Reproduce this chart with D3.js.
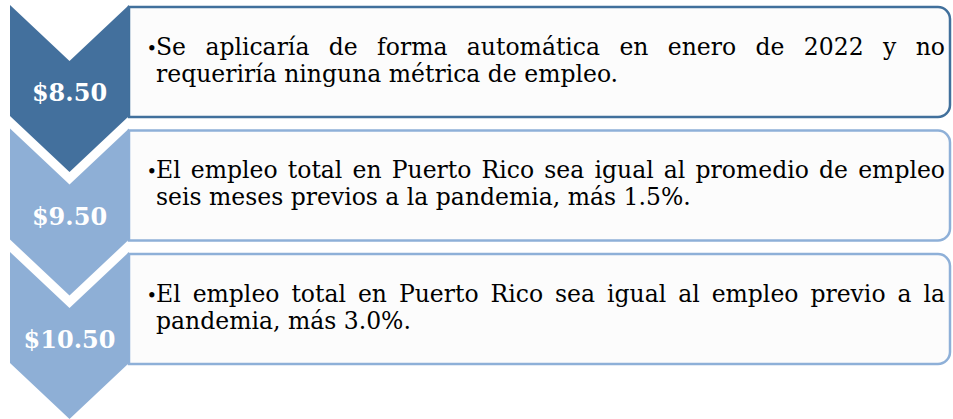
<!DOCTYPE html>
<html>
<head>
<meta charset="utf-8">
<script src="https://cdn.jsdelivr.net/npm/d3@7"></script>
<style>
  html, body { margin: 0; padding: 0; background: #ffffff; }
  svg { display: block; }
</style>
</head>
<body>
<script>
// ---- Data ----
const wages = ["$8.50", "$9.50", "$10.50"];
const firstLines = [
  "Se aplicaría de forma automática en enero de 2022 y no",
  "El empleo total en Puerto Rico sea igual al promedio de empleo",
  "El empleo total en Puerto Rico sea igual al empleo previo a la"
];
const secondLines = [
  "requeriría ninguna métrica de empleo.",
  "seis meses previos a la pandemia, más 1.5%.",
  "pandemia, más 3.0%."
];

// ---- Styles ----
const chevronColors = ["#43709d", "#8eafd6", "#8eafd6"];
const boxStroke = ["#41709c", "#8eb0d8", "#8eb0d8"];
const W = 953, H = 419;
const serif = "'DejaVu Serif', 'Liberation Serif', serif";

const svg = d3.select("body").append("svg").attr("width", W).attr("height", H);

const y = d3.scaleBand().domain(wages).range([5, 5 + 3 * 123.5]).paddingInner(0).paddingOuter(0);
const chevL = 10, chevR = 129, chevBody = 111, chevDepth = 56;
const chevX = d3.scaleLinear().domain([0, 1]).range([chevL, chevR]);
const boxL = 129, boxR = 950, boxH = 110, boxR_rad = 12;
const textX0 = 146.5, textIndent = 156, textRight = 945;

const rows = wages.map((w, i) => ({ w, i, l1: firstLines[i], l2: secondLines[i] }));

// Text boxes
svg.append("g").selectAll("path.box").data(rows).join("path")
  .attr("class", "box")
  .attr("d", d => {
    const t = y(d.w) + 2, b = t + boxH, r = boxR_rad;
    const p = d3.path();
    p.moveTo(boxL, t);
    p.lineTo(boxR - r, t);
    p.arcTo(boxR, t, boxR, t + r, r);
    p.lineTo(boxR, b - r);
    p.arcTo(boxR, b, boxR - r, b, r);
    p.lineTo(boxL, b);
    p.closePath();
    return p.toString();
  })
  .attr("fill", "#fcfcfc")
  .attr("stroke", d => boxStroke[d.i])
  .attr("stroke-width", 2.5);

// Chevrons
svg.append("g").selectAll("path.chev").data(rows).join("path")
  .attr("class", "chev")
  .attr("d", d => {
    const t = y(d.w), cx = chevX(0.5);
    return d3.line()([
      [chevX(0), t], [cx, t + chevDepth], [chevX(1), t],
      [chevX(1), t + chevBody], [cx, t + chevBody + chevDepth], [chevX(0), t + chevBody]
    ]) + "Z";
  })
  .attr("fill", d => chevronColors[d.i]);

// Chevron labels
svg.append("g").selectAll("text.lab").data(rows).join("text")
  .attr("class", "lab")
  .attr("x", chevX(0.5))
  .attr("y", d => y(d.w) + 96)
  .attr("text-anchor", "middle")
  .attr("fill", "#ffffff")
  .style("font-family", serif)
  .style("font-size", "24px")
  .style("font-weight", "bold")
  .text(d => d.w);

// Description text
const fs = 23.5;
rows.forEach(d => {
  const yc = y(d.w) + 2 + boxH / 2;
  const b1 = yc - 7.5, b2 = yc + 19.5;
  const g = svg.append("g").style("font-family", serif).style("font-size", fs + "px").attr("fill", "#000");
  g.append("text").attr("x", textX0).attr("y", b1).style("font-size", "18px").text("•");
  // justified first line
  const words = d.l1.split(" ");
  const ws = words.map(wd => g.append("text").attr("y", b1).text(wd));
  const widths = ws.map(s => s.node().getComputedTextLength());
  const total = d3.sum(widths);
  const gap = (textRight - textIndent - total) / (words.length - 1);
  let x = textIndent;
  ws.forEach((s, k) => { s.attr("x", x); x += widths[k] + gap; });
  g.append("text").attr("x", textIndent).attr("y", b2).text(d.l2);
});
</script>
</body>
</html>
